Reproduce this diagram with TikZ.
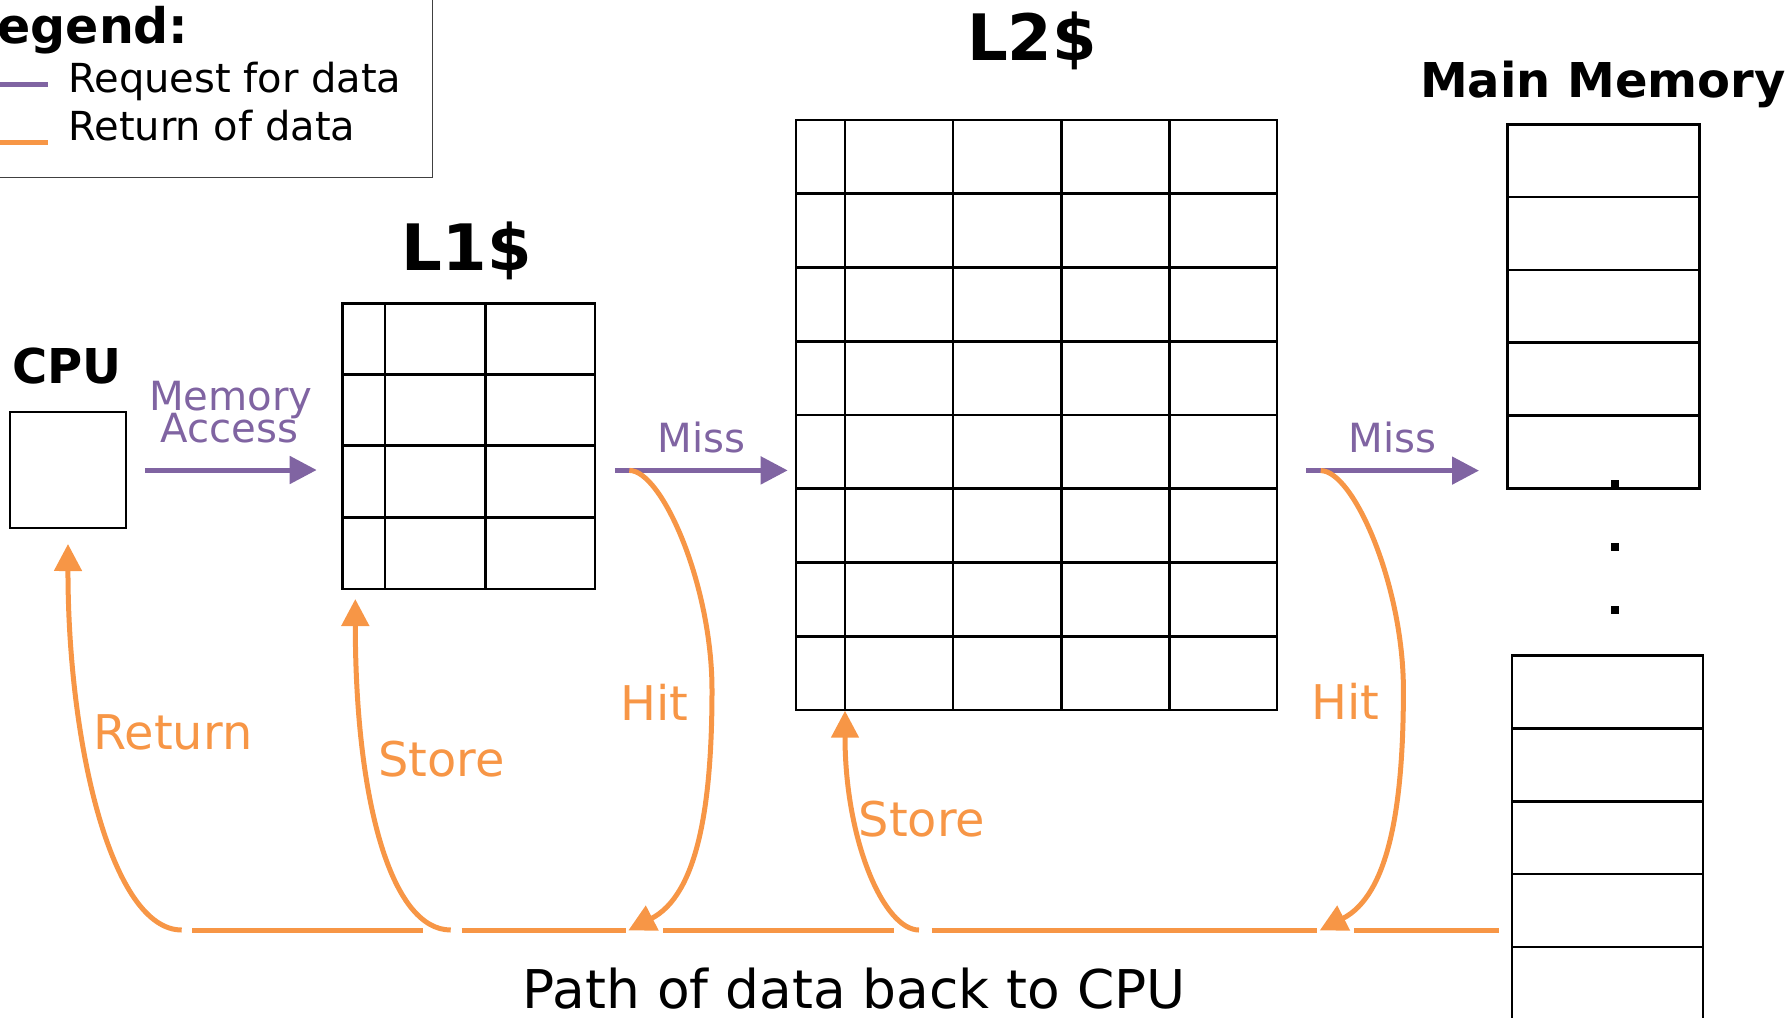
\documentclass[tikz,border=0pt]{standalone}
\usepackage{fontspec}
\setmainfont{DejaVu Sans}
\usetikzlibrary{arrows.meta,calc}
\definecolor{reqc}{HTML}{8064A2}
\definecolor{retc}{HTML}{F79646}
\tikzset{
  gridln/.style={line width=1.3pt, draw=black},
  cellbox/.style={draw=black, line width=1.3pt, inner sep=0pt, outer sep=0pt},
  reqarrow/.style={draw=reqc, line width=2.5pt, -{Triangle[length=13.5pt,width=13.5pt]}},
  retarrow/.style={draw=retc, line width=2.5pt, -{Triangle[length=13.5pt,width=13.5pt]}},
  retline/.style={draw=retc, line width=2.5pt},
  reqline/.style={draw=reqc, line width=2.5pt},
  lbl/.style={inner sep=0pt, anchor=base},
  title/.style={lbl, font=\bfseries\fontsize{24}{28}\selectfont},
  bigtitle/.style={lbl, font=\bfseries\fontsize{32}{38}\selectfont},
  reqlbl/.style={lbl, text=reqc, font=\fontsize{20.1}{24}\selectfont},
  retlbl/.style={lbl, text=retc, font=\fontsize{23.9}{28}\selectfont},
  leglbl/.style={inner sep=0pt, anchor=base west, font=\fontsize{20}{24}\selectfont},
}
\begin{document}
\begin{tikzpicture}[x=0.5pt,y=-0.5pt]
\useasboundingbox (0,0) rectangle (1792,1017);
\clip (0,0) rectangle (1792,1017);

% ---------- legend ----------
\draw[line width=0.75pt, draw=black!75] (-20,-20) rectangle (432.5,177.5);
\node[inner sep=0pt, anchor=base east, font=\bfseries\fontsize{24.5}{28}\selectfont] (legt) at (189,43.3) {Legend:};
\draw[reqline] (-5,84) -- (48,84);
\draw[retline] (-5,142) -- (48,142);
\node[leglbl] (legreq) at (68,92.7) {Request for data};
\node[leglbl] (legret) at (68,140) {Return of data};

% ---------- CPU ----------
\node[cellbox, minimum width=58pt, minimum height=58pt] (cpu) at (68,470) {};
\node[title] (cputxt) at (67,383.3) {CPU};

% ---------- L1 cache ----------
\node[cellbox, minimum width=126.15pt, minimum height=142.85pt] (l1) at (468.85,446.15) {};
\foreach \xx in {385,485.3} \draw[gridln] (\xx,303.3) -- (\xx,589);
\foreach \yy in {374.3,445.7,517.3} \draw[gridln] (342.7,\yy) -- (595,\yy);
\node[bigtitle] (l1txt) at (466.7,270.7) {L1\$};

% ---------- L2 cache ----------
\node[cellbox, minimum width=240.5pt, minimum height=295pt] (l2) at (1036.5,415) {};
\foreach \xx in {845,953,1061.7,1169.5} \draw[gridln] (\xx,120) -- (\xx,710);
\foreach \yy in {193.75,267.5,341.25,415,488.75,562.5,636.25} \draw[gridln] (796,\yy) -- (1277,\yy);
\node[bigtitle] (l2txt) at (1032,60.6) {L2\$};

% ---------- main memory ----------
\node[cellbox, minimum width=96pt, minimum height=182pt] (mm) at (1603.3,306.3) {};
\foreach \yy in {197.1,269.9,342.7,415.5} \draw[gridln] (1507.3,\yy) -- (1699.3,\yy);
\node[cellbox, minimum width=95.5pt, minimum height=222pt] (mmb) at (1607.5,877.7) {};
\foreach \yy in {728.5,801.3,874.1,946.9} \draw[gridln] (1512,\yy) -- (1703,\yy);
\foreach \yy in {484,547,610} \fill[black] (1610.7,\yy-4.3) rectangle (1619.3,\yy+4.3);
\node[lbl, font=\bfseries\fontsize{24}{28}\selectfont] (mmtxt) at (1603,97.3) {Main Memory};

% ---------- request arrows ----------
\coordinate (ma0) at (145,470);
\coordinate (ma1) at (316.7,470);
\draw[reqarrow] (ma0) -- (ma1);
\node[reqlbl] (memtxt) at (231,410) {Memory};
\node[reqlbl] (acctxt) at (229.7,442) {Access};

\coordinate (m10) at (615,470.4);
\coordinate (m11) at (787.7,470.4);
\draw[reqarrow] (m10) -- (m11);
\node[reqlbl] (miss1) at (701.7,452.9) {Miss};

\coordinate (m20) at (1306,470.6);
\coordinate (m21) at (1479,470.6);
\draw[reqarrow] (m20) -- (m21);
\node[reqlbl] (miss2) at (1392.7,452.4) {Miss};

% ---------- return path ----------
\coordinate (ret0) at (181.7,930);
\coordinate (ret1) at ($(cpu.south)+(0,16)$);
\draw[retarrow] (ret0) .. controls (111.7,930) and (67.8,744) .. (ret1);
\node[retlbl] (rettxt) at (173,749) {Return};

\coordinate (s10) at (450.7,930);
\coordinate (s11) at (355.3,599);
\draw[retarrow] (s10) .. controls (390.7,930) and (355.3,799) .. (s11);
\node[retlbl] (st1txt) at (441.7,776.7) {Store};

\coordinate (s20) at (919,930);
\coordinate (s21) at (845,710.7);
\draw[retarrow] (s20) .. controls (884,930) and (845,840.7) .. (s21);
\node[retlbl] (st2txt) at (922,836) {Store};

\coordinate (h10) at (629.3,470.4);
\coordinate (h11) at (628.3,930.4);
\draw[retarrow] (h10) .. controls (662,470.4) and (712,585) .. (712,690)
  .. controls (712,808) and (697,895) .. (h11);
\node[retlbl] (hit1) at (654.2,720.4) {Hit};

\coordinate (h20) at (1320.7,470.6);
\coordinate (h21) at (1319.7,930.4);
\draw[retarrow] (h20) .. controls (1353.4,470.6) and (1403.4,585) .. (1403.4,690)
  .. controls (1403.4,808) and (1388.4,895) .. (h21);
\node[retlbl] (hit2) at (1345.5,719.5) {Hit};

% bottom return line (segments between the curve junctions)
\coordinate (b1) at (192.3,930);  \coordinate (b2) at (423.3,930);
\coordinate (b3) at (461.7,930);  \coordinate (b4) at (625.7,930);
\coordinate (b5) at (663.3,930);  \coordinate (b6) at (894,930);
\coordinate (b7) at (931.7,930);  \coordinate (b8) at (1316.7,930);
\coordinate (b9) at (1354,930);   \coordinate (b10) at (1499.3,930);
\draw[retline] (b1) -- (b2);
\draw[retline] (b3) -- (b4);
\draw[retline] (b5) -- (b6);
\draw[retline] (b7) -- (b8);
\draw[retline] (b9) -- (b10);

\node[lbl, font=\fontsize{26.7}{31}\selectfont] (pathtxt) at (854.3,1008.3) {Path of data back to CPU};
\end{tikzpicture}
\end{document}
